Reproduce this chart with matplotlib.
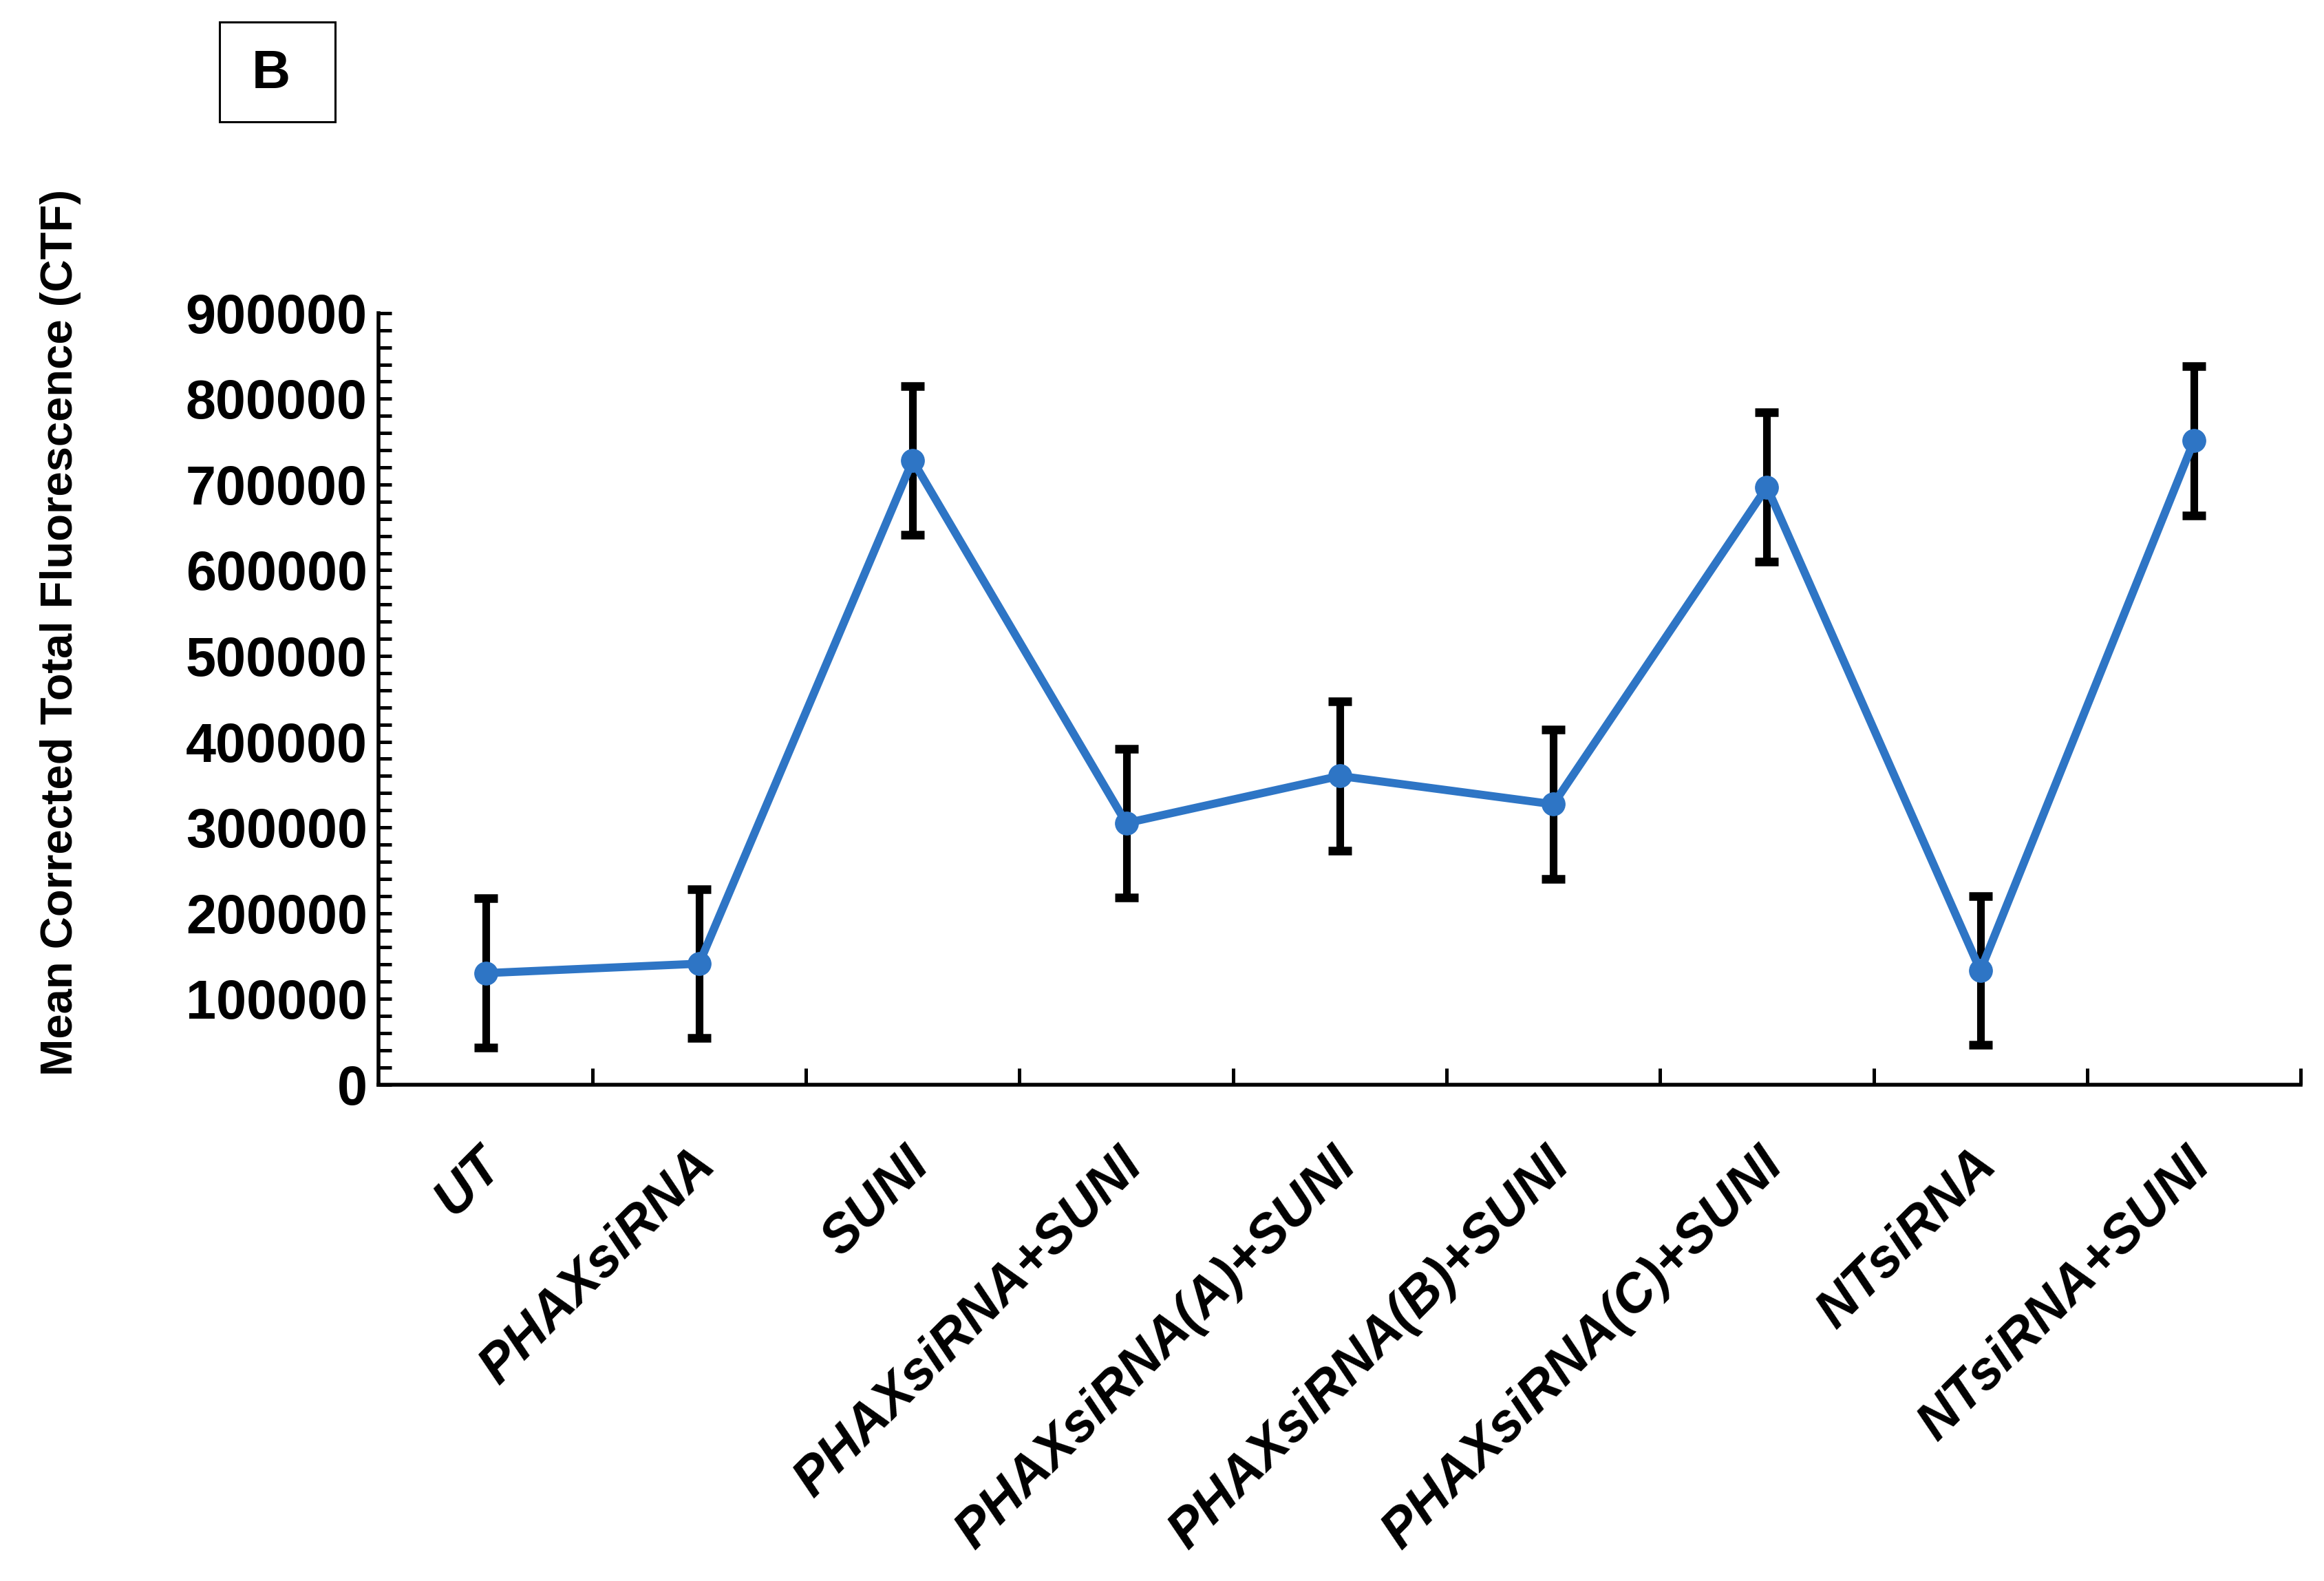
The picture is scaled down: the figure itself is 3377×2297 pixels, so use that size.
import numpy as np
import matplotlib
matplotlib.use("Agg")
import matplotlib.pyplot as plt
from matplotlib.patches import Rectangle
from matplotlib.ticker import MultipleLocator, FixedLocator
from matplotlib.transforms import ScaledTranslation

# data
groups = ['UT', 'PHAXsiRNA', 'SUNI', 'PHAXsiRNA+SUNI', 'PHAXsiRNA(A)+SUNI',
          'PHAXsiRNA(B)+SUNI', 'PHAXsiRNA(C)+SUNI', 'NTsiRNA', 'NTsiRNA+SUNI']
ctf_mean = [130000, 141000, 728000, 305000, 360000, 327000, 697000, 133000, 751000]
ctf_err = [87000, 87000, 87000, 87000, 87000, 87000, 87000, 87000, 87000]

plt.rcParams['font.family'] = 'Liberation Sans'
plt.rcParams['font.weight'] = 'bold'

fig = plt.figure(figsize=(33.77, 22.97), dpi=100)
ax = fig.add_axes([0.163, 0.314, 0.827, 0.488])

x = np.arange(len(groups))
ax.errorbar(x, ctf_mean, yerr=ctf_err, fmt='none', ecolor='black',
            elinewidth=8, capsize=12, capthick=9, zorder=2)
ax.plot(x, ctf_mean, color='#2E75C5', lw=8.5, marker='o', markersize=24,
        zorder=3)

ax.set_xlim(-0.5, len(groups) - 0.5)
ax.set_ylim(0, 900000)

for s in ['top', 'right']:
    ax.spines[s].set_visible(False)
for s in ['left', 'bottom']:
    ax.spines[s].set_linewidth(4)

# y axis: labels every 100000, tick marks every 20000 pointing in
ax.yaxis.set_major_locator(MultipleLocator(100000))
ax.yaxis.set_minor_locator(MultipleLocator(20000))
ax.tick_params(axis='y', which='both', direction='in', length=14, width=3.6,
               pad=12, labelsize=57)
ax.set_yticklabels([str(int(v)) for v in ax.get_yticks()])

# x axis: marks between groups, labels at group centres
ax.set_xticks(x)
ax.set_xticklabels(groups, rotation=45, ha='right', va='center',
                   rotation_mode='anchor', fontsize=56, style='italic',
                   fontweight='bold')
ax.tick_params(axis='x', which='major', length=0, pad=76)
ax.xaxis.set_minor_locator(FixedLocator(np.arange(0.5, len(groups), 1.0)))
ax.tick_params(axis='x', which='minor', direction='in', length=17, width=3.6)
for lab in ax.get_xticklabels():
    lab.set_transform(lab.get_transform() +
                      ScaledTranslation(0.12, 0, fig.dpi_scale_trans))

ax.set_ylabel('Mean Corrected Total Fluorescence (CTF)', fontsize=47,
              fontweight='bold')
ax.yaxis.set_label_coords(-0.155, 0.586)

# panel letter
fig.patches.append(Rectangle((0.0945, 0.923), 0.0497, 0.0631,
                             transform=fig.transFigure, fill=False,
                             ec='black', lw=2.2))
fig.text(0.1165, 0.953, 'B', fontsize=56, fontweight='bold',
         ha='center', va='center')

fig.savefig('out.png', dpi=100)
